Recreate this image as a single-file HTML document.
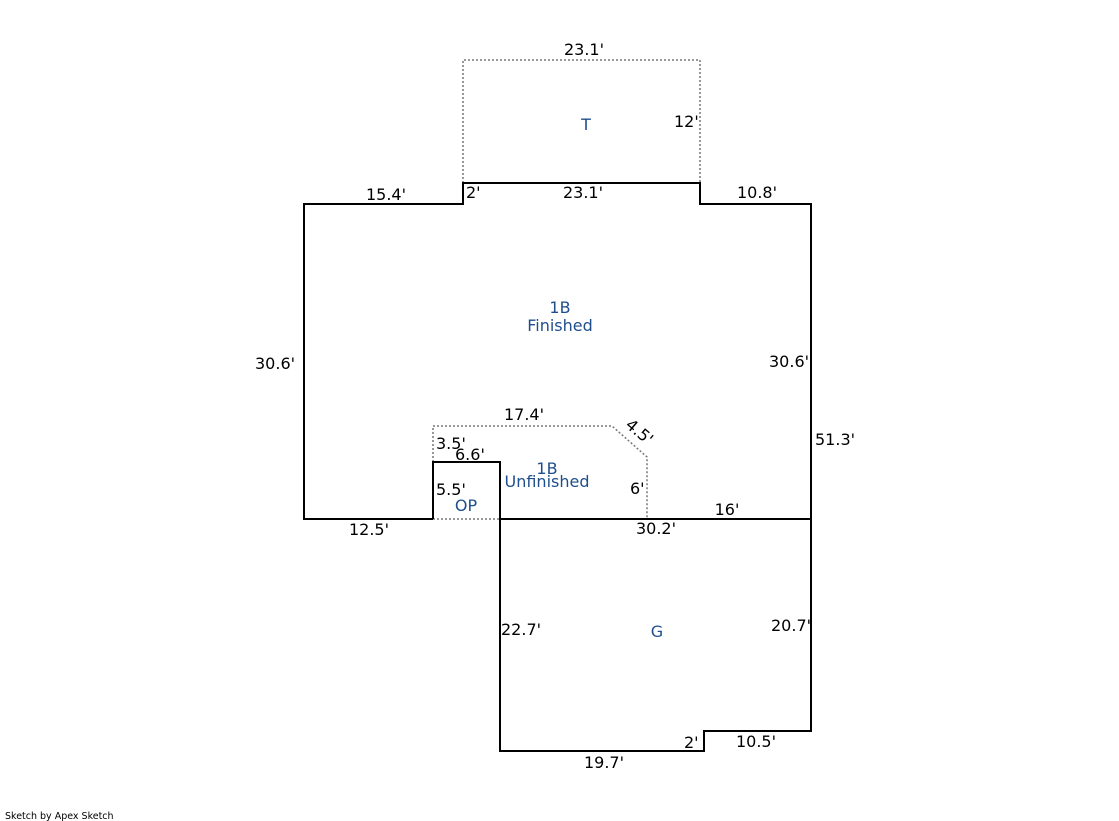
<!DOCTYPE html>
<html><head><meta charset="utf-8"><style>
html,body{margin:0;padding:0;background:#fff;}
svg{display:block}
text{font-family:"DejaVu Sans","Liberation Sans",sans-serif;font-size:16px;fill:#000}
.b{fill:#1f4e8c}
</style></head><body>
<svg width="1119" height="821" viewBox="0 0 1119 821" xmlns="http://www.w3.org/2000/svg">
<g fill="none" stroke="#777" stroke-width="1.5" stroke-dasharray="2,2">
<polyline points="463,183 463,60 700,60 700,183"/>
<polyline points="433,462 433,426 612,426 647,457 647,519"/>
<line x1="433" y1="519" x2="500" y2="519"/>
</g>
<g fill="none" stroke="#000" stroke-width="2">
<polyline points="433,519 304,519 304,204 463,204 463,183 700,183 700,204 811,204 811,731 704,731 704,751 500,751 500,462 433,462 433,519"/>
<line x1="500" y1="519" x2="811" y2="519"/>
</g>
<text x="584" y="55" text-anchor="middle">23.1'</text>
<text class="b" x="586" y="130" text-anchor="middle">T</text>
<text x="674" y="127">12'</text>
<text x="386" y="200" text-anchor="middle">15.4'</text>
<text x="466" y="198">2'</text>
<text x="583" y="198" text-anchor="middle">23.1'</text>
<text x="757" y="198" text-anchor="middle">10.8'</text>
<text class="b" x="560" y="313" text-anchor="middle">1B</text>
<text class="b" x="560" y="331" text-anchor="middle">Finished</text>
<text x="255" y="369">30.6'</text>
<text x="769" y="367">30.6'</text>
<text x="815" y="445">51.3'</text>
<text x="524" y="420" text-anchor="middle">17.4'</text>
<text x="621" y="436" transform="rotate(40 636 436)">4.5'</text>
<text x="436" y="449">3.5'</text>
<text x="455" y="460">6.6'</text>
<text class="b" x="547" y="474" text-anchor="middle">1B</text>
<text class="b" x="547" y="487" text-anchor="middle">Unfinished</text>
<text x="436" y="495">5.5'</text>
<text x="630" y="494">6'</text>
<text class="b" x="466" y="511" text-anchor="middle">OP</text>
<text x="727" y="515" text-anchor="middle">16'</text>
<text x="369" y="535" text-anchor="middle">12.5'</text>
<text x="656" y="534" text-anchor="middle">30.2'</text>
<text x="501" y="635">22.7'</text>
<text class="b" x="657" y="637" text-anchor="middle">G</text>
<text x="771" y="631">20.7'</text>
<text x="684" y="748">2'</text>
<text x="756" y="747" text-anchor="middle">10.5'</text>
<text x="604" y="768" text-anchor="middle">19.7'</text>
<text x="5" y="819" style="font-size:9.5px">Sketch by Apex Sketch</text>
</svg>
</body></html>
